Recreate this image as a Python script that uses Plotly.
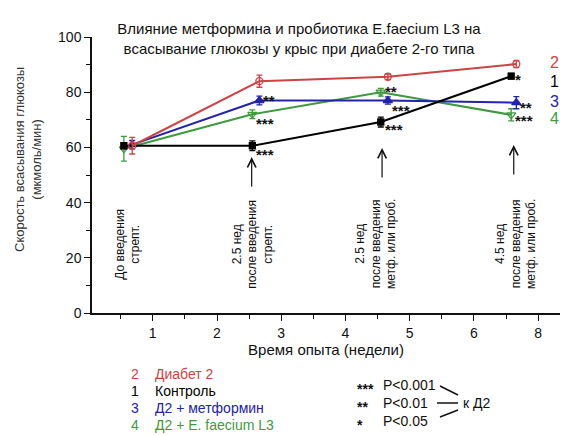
import plotly.graph_objects as go

# Measurement times (weeks); groups 2 and 3 are drawn slightly shifted right
weeks_a = [0.55, 2.55, 4.55, 6.58]
weeks_b = [0.68, 2.66, 4.66, 6.66]

diabetes = [60.6, 84.0, 85.6, 90.2]
diabetes_err = [3.0, 2.2, 1.0, 1.3]
control = [60.6, 60.6, 69.2, 85.8]
control_err = [1.0, 1.8, 1.8, 1.0]
metformin = [61.0, 77.0, 77.0, 76.2]
metformin_err = [1.5, 1.6, 1.3, 2.2]
faecium = [59.5, 72.0, 80.0, 71.8]
faecium_err = [4.5, 1.6, 1.4, 2.2]

# Significance vs Д2
stars_control = ["", "***", "***", "*"]
stars_metformin = ["", "**", "***", "**"]
stars_faecium = ["", "***", "**", "***"]

tick_vals = [1, 2, 3, 4, 5, 6, 7]
tick_text = ["1", "2", "3", "4", "5", "6", "8"]

RED = "#cc4444"
BLACK = "#000000"
BLUE = "#2222aa"
GREEN = "#3f9a3f"
FONT = "Liberation Sans, Arial, sans-serif"

W, H = 563, 435
M_L, M_R, M_T, M_B = 92, 3, 37, 122


def py(ypx):
    """Pixel row -> paper y."""
    return (H - M_B - ypx) / (H - M_T - M_B)


def px(xpx):
    """Pixel column -> paper x."""
    return (xpx - M_L) / (W - M_L - M_R)


fig = go.Figure()


def add_series(x, y, err, color, symbol, size):
    fig.add_trace(go.Scatter(
        x=x, y=y, mode="lines+markers",
        line=dict(color=color, width=2),
        marker=dict(symbol=symbol, size=size, color=color,
                    line=dict(color=color, width=1.3)),
        error_y=dict(type="data", array=err, color=color,
                     thickness=1.3, width=3),
        showlegend=False,
    ))


add_series(weeks_a, faecium, faecium_err, GREEN, "triangle-down-open", 8)
add_series(weeks_b, metformin, metformin_err, BLUE, "triangle-up", 8)
add_series(weeks_a, control, control_err, BLACK, "square", 6)
add_series(weeks_b, diabetes, diabetes_err, RED, "circle-open", 7)

ann = []

# Significance marks beside points (vertical shifts in pixels)
star_specs = [
    (weeks_a, control, stars_control, [0, -8.5, -7.5, -3.5]),
    (weeks_b, metformin, stars_metformin, [0, 0, -10, -4.5]),
    (weeks_a, faecium, stars_faecium, [0, -9.5, 0.5, -6]),
]
for xs, ys, st, dy in star_specs:
    for xv, yv, s, d in zip(xs, ys, st, dy):
        if s:
            ann.append(dict(x=xv, y=yv, text="<b>" + s + "</b>", showarrow=False,
                            xanchor="left", yanchor="middle",
                            xshift=3, yshift=d, borderpad=0,
                            font=dict(size=15, color="#111111", family=FONT)))

# Group numbers at the right end
group_nums = ["2", "1", "3", "4"]
group_cols = [RED, BLACK, BLUE, GREEN]
group_y = [90.8, 84.0, 76.6, 70.4]
for t, c, yv in zip(group_nums, group_cols, group_y):
    ann.append(dict(x=7.26, y=yv, text=t, showarrow=False,
                    xanchor="center", yanchor="middle", borderpad=0,
                    font=dict(size=16, color=c, family=FONT)))

# Vertical notes on stages of the experiment
notes = [
    (0.61, "До введения<br>стрепт."),
    (2.54, "2.5 нед<br>после введения<br>стрепт."),
    (4.46, "2.5 нед<br>после введения<br>метф. или проб."),
    (6.64, "4.5 нед<br>после введения<br>метф. или проб."),
]
for xv, t in notes:
    ann.append(dict(x=xv, y=25, text=t, showarrow=False, textangle=-90,
                    xanchor="center", yanchor="middle",
                    font=dict(size=12, color="#111111", family=FONT)))

# Arrows pointing to the sampling moments
arrows = [(2.54, 56.5), (4.57, 59.8), (6.62, 60.9)]
for xv, yv in arrows:
    ann.append(dict(x=xv, y=yv, ax=0, ay=31, text="", showarrow=True,
                    arrowhead=5, arrowsize=1.4, arrowwidth=1.2,
                    arrowcolor="#111111"))

# Group key below the plot
key = [("2", "Диабет 2", RED, 374), ("1", "Контроль", BLACK, 391),
       ("3", "Д2 + метформин", BLUE, 408), ("4", "Д2 + E. faecium L3", GREEN, 425)]
for n, t, c, ypx in key:
    ann.append(dict(xref="paper", yref="paper", x=px(129), y=py(ypx),
                    xanchor="left", yanchor="middle", showarrow=False,
                    text=n, font=dict(size=14, color=c, family=FONT)))
    ann.append(dict(xref="paper", yref="paper", x=px(153), y=py(ypx),
                    xanchor="left", yanchor="middle", showarrow=False,
                    text=t, font=dict(size=14, color=c, family=FONT)))

# P-value key
pkey = [("***", "P<0.001", 385), ("**", "P<0.01", 403), ("*", "P<0.05", 421)]
for s, t, ypx in pkey:
    ann.append(dict(xref="paper", yref="paper", x=px(355), y=py(ypx),
                    xanchor="left", yanchor="middle", showarrow=False,
                    yshift=-4,
                    text="<b>" + s + "</b>",
                    font=dict(size=14, color="#111111", family=FONT)))
    ann.append(dict(xref="paper", yref="paper", x=px(381), y=py(ypx),
                    xanchor="left", yanchor="middle", showarrow=False,
                    text=t, font=dict(size=14, color="#111111", family=FONT)))
ann.append(dict(xref="paper", yref="paper", x=px(461), y=py(403),
                xanchor="left", yanchor="middle", showarrow=False,
                text="к Д2", font=dict(size=14, color="#111111", family=FONT)))

shapes = [
    dict(type="line", xref="paper", yref="paper", x0=px(440), y0=py(386),
         x1=px(458), y1=py(395), line=dict(color="#111111", width=1.5)),
    dict(type="line", xref="paper", yref="paper", x0=px(437), y0=py(403),
         x1=px(458), y1=py(403), line=dict(color="#111111", width=1.5)),
    dict(type="line", xref="paper", yref="paper", x0=px(440), y0=py(417),
         x1=px(458), y1=py(410), line=dict(color="#111111", width=1.5)),
]

# Y-axis title
ann.append(dict(xref="paper", yref="paper", x=px(28), y=py(160),
                xanchor="center", yanchor="middle",
                text="Скорость всасывания глюкозы<br>(мкмоль/мин)",
                showarrow=False, textangle=-90,
                font=dict(size=13, color="#333333", family=FONT)))

fig.update_layout(
    width=W, height=H,
    margin=dict(l=M_L, r=M_R, t=M_T, b=M_B),
    paper_bgcolor="white", plot_bgcolor="white",
    font=dict(family=FONT, color="#111111"),
    title=dict(text="Влияние метформина и пробиотика E.faecium L3 на<br>"
                    "всасывание глюкозы у крыс при диабете 2-го типа",
               xref="container", yref="container",
               x=299 / W, xanchor="center", y=1 - 34 / H, yanchor="middle",
               font=dict(size=15, color="#111111", family=FONT)),
    annotations=ann,
    shapes=shapes,
)

fig.update_xaxes(
    range=[0.054, 7.34], showgrid=False, zeroline=False,
    showline=True, linecolor="#111111", linewidth=1.5,
    tickmode="array", tickvals=tick_vals, ticktext=tick_text,
    ticks="outside", ticklen=6, tickwidth=1.3, tickcolor="#111111",
    tickfont=dict(size=14, color="#111111"),
    minor=dict(tickmode="array", tickvals=[0.5, 1.5, 2.5, 3.5, 4.5, 5.5, 6.5],
               ticks="outside", ticklen=4, tickwidth=1.2, tickcolor="#111111"),
    title=dict(text="Время опыта (недели)", font=dict(size=15, color="#111111"),
               standoff=4),
)
fig.update_yaxes(
    range=[0, 100], showgrid=False, zeroline=False,
    showline=True, linecolor="#111111", linewidth=1.5,
    tickmode="array", tickvals=[0, 20, 40, 60, 80, 100],
    ticks="outside", ticklen=6, tickwidth=1.3, tickcolor="#111111",
    tickfont=dict(size=14, color="#111111"),
    minor=dict(tickmode="array", tickvals=[10, 30, 50, 70, 90],
               ticks="outside", ticklen=4, tickwidth=1.2, tickcolor="#111111"),
)

fig.write_html("out.html")
